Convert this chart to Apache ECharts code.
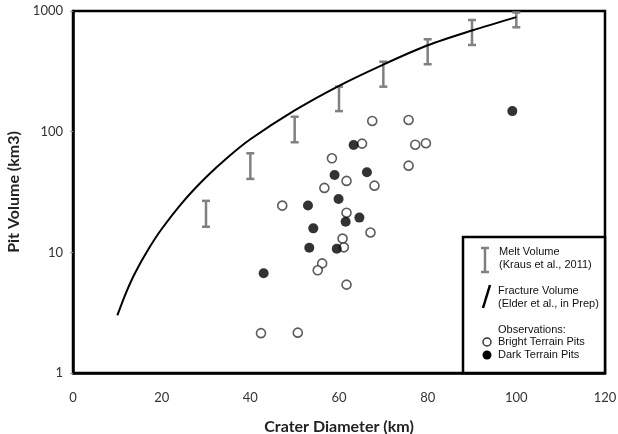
<!DOCTYPE html>
<html>
<head>
<meta charset="utf-8">
<script src="https://cdn.jsdelivr.net/npm/echarts@6/dist/echarts.min.js"></script>
<style>html,body{margin:0;padding:0;background:#fff}#c{width:618px;height:434px}</style>
</head>
<body>
<div id="c"></div>
<script>
// Fracture volume curve (Elder et al., in Prep)
const curveX = [10, 12, 14, 17, 20, 25, 30, 35, 40, 50, 60, 70, 80, 90, 100];
const curveY = [3, 4.66, 6.75, 10.6, 15.6, 26.7, 41.9, 61.7, 86.5, 150, 240, 360, 520, 690, 890];
// Melt volume ranges (Kraus et al., 2011)
const meltX = [30, 40, 50, 60, 70, 80, 90, 100];
const meltLow = [16.3, 40.6, 81.7, 148, 236, 362, 523, 733];
const meltHigh = [26.7, 66.2, 133, 236, 380, 583, 842, 972];
// Bright terrain pits
const brightX = [67.5, 75.7, 65.2, 77.2, 79.6, 58.4, 75.7, 61.7, 68.0, 56.7, 47.2, 61.7, 67.1, 60.8, 61.1, 56.2, 55.2, 61.7, 42.4, 50.7];
const brightY = [122.6, 125, 79.6, 78, 80.2, 60.2, 52.3, 39.1, 35.7, 34.2, 24.4, 21.3, 14.6, 13.0, 11.0, 8.1, 7.1, 5.4, 2.14, 2.16];
// Dark terrain pits
const darkX = [63.3, 59.0, 66.3, 59.9, 53.0, 54.2, 61.5, 64.6, 53.3, 59.5, 43.0, 99.1];
const darkY = [77.6, 43.8, 46.1, 27.7, 24.4, 15.8, 17.9, 19.4, 10.9, 10.7, 6.7, 148];
// Axis ticks
const xTicks = [0, 20, 40, 60, 80, 100, 120];
const yTicks = [1, 10, 100, 1000];

const chart = echarts.init(document.getElementById('c'), null, {renderer: 'canvas'});
const G = {left: 73, top: 11, right: 13, bottom: 61};
const LX = 463, LY = 237;
const tickFont = 'Lato, "Open Sans", sans-serif';
const legFont = '"Liberation Sans", Arial, sans-serif';

chart.setOption({
  animation: false,
  backgroundColor: '#fff',
  grid: Object.assign({show: true, borderColor: '#000', borderWidth: 2.5, backgroundColor: 'transparent',
    containLabel: false, outerBoundsMode: 'none'}, G),
  xAxis: {
    type: 'value', min: xTicks[0], max: xTicks[xTicks.length - 1], interval: 20,
    name: 'Crater Diameter (km)', nameLocation: 'middle', nameGap: 46,
    nameTextStyle: {fontFamily: tickFont, fontWeight: 'bold', fontSize: 16, color: '#222'},
    axisLine: {show: true, lineStyle: {color: '#000', width: 2.5}},
    axisTick: {show: false},
    splitLine: {show: false},
    axisLabel: {fontFamily: tickFont, fontSize: 13, color: '#333', margin: 18}
  },
  yAxis: {
    type: 'log', logBase: 10, min: yTicks[0], max: yTicks[yTicks.length - 1],
    name: 'Pit Volume (km3)', nameLocation: 'middle', nameGap: 48, nameRotate: 90,
    nameTextStyle: {fontFamily: tickFont, fontWeight: 'bold', fontSize: 16, color: '#222'},
    axisLine: {show: true, lineStyle: {color: '#000', width: 2.5}},
    axisTick: {show: true, length: 3, lineStyle: {color: '#999'}},
    splitLine: {show: false},
    minorTick: {show: false},
    axisLabel: {fontFamily: tickFont, fontSize: 13, color: '#333', margin: 10,
      formatter: function (v) { return String(v); }}
  },
  series: [
    {
      type: 'line', name: 'Fracture Volume', smooth: 0.3, showSymbol: false,
      data: curveX.map((x, i) => [x, curveY[i]]),
      lineStyle: {color: '#000', width: 2}, z: 3
    },
    {
      type: 'custom', name: 'Melt Volume',
      data: meltX.map((x, i) => [x, meltLow[i], meltHigh[i]]),
      renderItem: function (params, api) {
        const lo = api.coord([api.value(0), api.value(1)]);
        const hi = api.coord([api.value(0), api.value(2)]);
        const w = 4;
        const st = {stroke: '#808080', lineWidth: 2.5, fill: null};
        return {type: 'group', children: [
          {type: 'line', shape: {x1: lo[0], y1: lo[1], x2: hi[0], y2: hi[1]}, style: st},
          {type: 'line', shape: {x1: lo[0] - w, y1: lo[1], x2: lo[0] + w, y2: lo[1]}, style: st},
          {type: 'line', shape: {x1: hi[0] - w, y1: hi[1], x2: hi[0] + w, y2: hi[1]}, style: st}
        ]};
      }, z: 2
    },
    {
      type: 'scatter', name: 'Bright Terrain Pits', symbol: 'circle', symbolSize: 9,
      data: brightX.map((x, i) => [x, brightY[i]]),
      itemStyle: {color: '#fff', borderColor: '#333', borderWidth: 1.6}, z: 4
    },
    {
      type: 'scatter', name: 'Dark Terrain Pits', symbol: 'circle', symbolSize: 10,
      data: darkX.map((x, i) => [x, darkY[i]]),
      itemStyle: {color: '#000'}, z: 5
    }
  ],
  graphic: [
    {type: 'rect', shape: {x: LX, y: LY, width: 605 - LX, height: 373 - LY},
     style: {fill: '#fff', stroke: '#000', lineWidth: 2.5}, z: 10},
    // melt icon
    {type: 'line', shape: {x1: 485, y1: 248, x2: 485, y2: 272}, style: {stroke: '#808080', lineWidth: 2.5}, z: 11},
    {type: 'line', shape: {x1: 481, y1: 248, x2: 489, y2: 248}, style: {stroke: '#808080', lineWidth: 2.5}, z: 11},
    {type: 'line', shape: {x1: 481, y1: 272, x2: 489, y2: 272}, style: {stroke: '#808080', lineWidth: 2.5}, z: 11},
    {type: 'text', left: 499, top: 246, style: {text: 'Melt Volume\n(Kraus et al., 2011)', font: '11px ' + legFont, fill: '#111', lineHeight: 12.5}, z: 11},
    // fracture icon
    {type: 'line', shape: {x1: 483, y1: 308, x2: 490, y2: 285}, style: {stroke: '#000', lineWidth: 2.5}, z: 11},
    {type: 'text', left: 498, top: 285, style: {text: 'Fracture Volume\n(Elder et al., in Prep)', font: '11px ' + legFont, fill: '#111', lineHeight: 12.5}, z: 11},
    {type: 'text', left: 498, top: 324, style: {text: 'Observations:', font: '11px ' + legFont, fill: '#111'}, z: 11},
    {type: 'circle', shape: {cx: 487, cy: 342, r: 4}, style: {fill: '#fff', stroke: '#333', lineWidth: 1.5}, z: 11},
    {type: 'text', left: 498, top: 336, style: {text: 'Bright Terrain Pits', font: '11px ' + legFont, fill: '#111'}, z: 11},
    {type: 'circle', shape: {cx: 487, cy: 355, r: 4.5}, style: {fill: '#000'}, z: 11},
    {type: 'text', left: 498, top: 349, style: {text: 'Dark Terrain Pits', font: '11px ' + legFont, fill: '#111'}, z: 11}
  ]
});
</script>
</body>
</html>
